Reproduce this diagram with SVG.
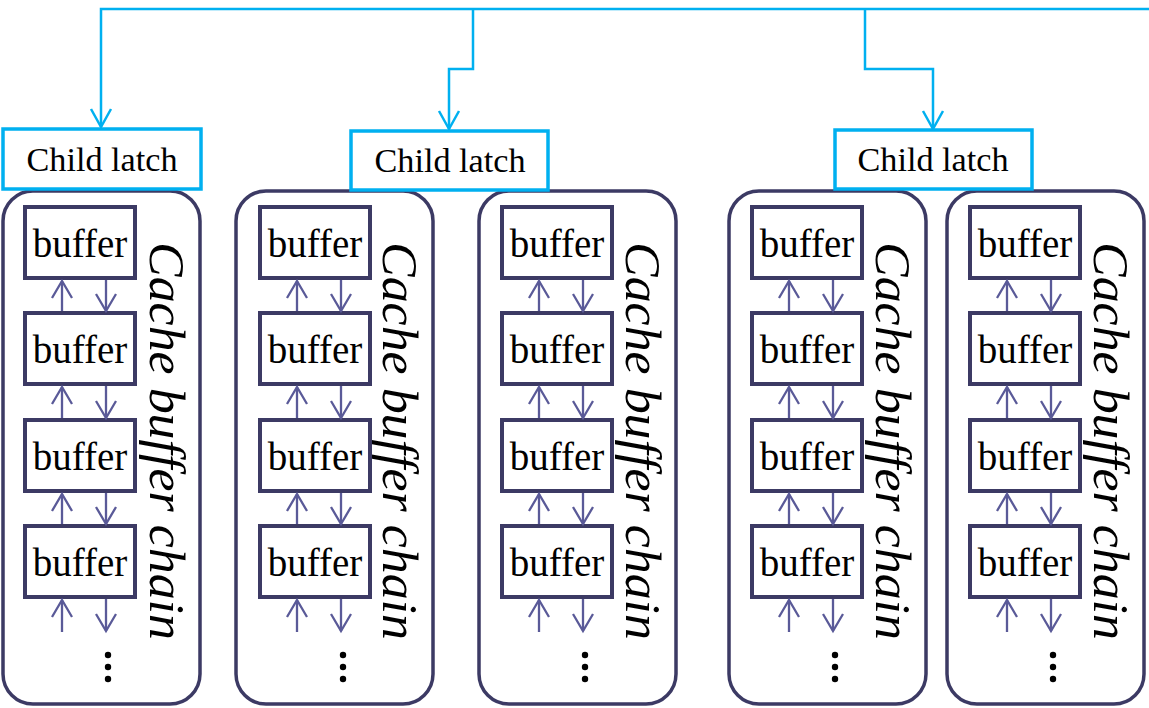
<svg xmlns="http://www.w3.org/2000/svg" width="1149" height="708" viewBox="0 0 1149 708">
  <defs>
    <style>
      .latch { fill: #ffffff; stroke: #00b0f0; stroke-width: 3.5; }
      .latch-text { font-family: "Liberation Serif", serif; font-size: 33px; fill: #000; text-anchor: middle; }
      .chain { fill: #ffffff; stroke: #3c3a64; stroke-width: 3.5; }
      .buf { fill: #ffffff; stroke: #3c3a64; stroke-width: 4; }
      .buf-text { font-family: "Liberation Serif", serif; font-size: 39px; fill: #000; text-anchor: middle; }
      .chain-text { font-family: "Liberation Serif", serif; font-style: italic; font-size: 50px; fill: #000; }
      .wire { fill: none; stroke: #00b0f0; stroke-width: 2.5; }
      .link { fill: none; stroke: #5a5a98; stroke-width: 2.3; }
      .dot { fill: #000; }
    </style>
    <!-- open V heads, drawn pointing along +x -->
    <marker id="blueHead" markerUnits="userSpaceOnUse" markerWidth="24" markerHeight="24" viewBox="-20 -12 24 24" refX="0" refY="0" orient="auto" overflow="visible">
      <path d="M-18,-10 L0,0 L-18,10" fill="none" stroke="#00b0f0" stroke-width="2.5"/>
    </marker>
    <marker id="linkHead" markerUnits="userSpaceOnUse" markerWidth="24" markerHeight="24" viewBox="-20 -12 24 24" refX="0" refY="0" orient="auto" overflow="visible">
      <path d="M-17,-10 L0,0 L-17,10" fill="none" stroke="#5a5a98" stroke-width="2.3"/>
    </marker>
    <!-- one column: four buffers linked both ways, trailing arrows and ellipsis -->
    <g id="column">
      <rect class="buf" x="0" y="0" width="110" height="71"/>
      <text class="buf-text" x="55" y="50">buffer</text>
      <rect class="buf" x="0" y="106" width="110" height="71"/>
      <text class="buf-text" x="55" y="156">buffer</text>
      <rect class="buf" x="0" y="213" width="110" height="71"/>
      <text class="buf-text" x="55" y="263">buffer</text>
      <rect class="buf" x="0" y="319" width="110" height="71"/>
      <text class="buf-text" x="55" y="369">buffer</text>
      <line class="link" x1="37" y1="104" x2="37" y2="74" marker-end="url(#linkHead)"/>
      <line class="link" x1="81" y1="73" x2="81" y2="104" marker-end="url(#linkHead)"/>
      <line class="link" x1="37" y1="211" x2="37" y2="180" marker-end="url(#linkHead)"/>
      <line class="link" x1="81" y1="179" x2="81" y2="211" marker-end="url(#linkHead)"/>
      <line class="link" x1="37" y1="317" x2="37" y2="287" marker-end="url(#linkHead)"/>
      <line class="link" x1="81" y1="286" x2="81" y2="317" marker-end="url(#linkHead)"/>
      <line class="link" x1="37" y1="425" x2="37" y2="393" marker-end="url(#linkHead)"/>
      <line class="link" x1="81" y1="392" x2="81" y2="424" marker-end="url(#linkHead)"/>
      <circle class="dot" cx="83" cy="448" r="3.2"/>
      <circle class="dot" cx="83" cy="460" r="3.2"/>
      <circle class="dot" cx="83" cy="472" r="3.2"/>
    </g>
  </defs>

  <!-- latch feed wires -->
  <g id="connectors">
    <path class="wire" d="M1149,9 L101,9 L101,127" marker-end="url(#blueHead)"/>
    <path class="wire" d="M473,9 L473,69 L449,69 L449,129" marker-end="url(#blueHead)"/>
    <path class="wire" d="M865,9 L865,69 L933,69 L933,129" marker-end="url(#blueHead)"/>
  </g>

  <!-- cache buffer chains -->
  <g id="chain1">
    <rect class="chain" x="3" y="191" width="197" height="513" rx="30"/>
    <use href="#column" x="25" y="207"/>
    <text class="chain-text" transform="translate(150,242) rotate(90)" textLength="398" lengthAdjust="spacingAndGlyphs">Cache buffer chain</text>
  </g>
  <g id="chain2">
    <rect class="chain" x="236" y="191" width="197" height="513" rx="30"/>
    <use href="#column" x="260" y="207"/>
    <text class="chain-text" transform="translate(383,242) rotate(90)" textLength="398" lengthAdjust="spacingAndGlyphs">Cache buffer chain</text>
  </g>
  <g id="chain3">
    <rect class="chain" x="479" y="191" width="197" height="513" rx="30"/>
    <use href="#column" x="502" y="207"/>
    <text class="chain-text" transform="translate(626,242) rotate(90)" textLength="398" lengthAdjust="spacingAndGlyphs">Cache buffer chain</text>
  </g>
  <g id="chain4">
    <rect class="chain" x="729" y="191" width="197" height="513" rx="30"/>
    <use href="#column" x="752" y="207"/>
    <text class="chain-text" transform="translate(876,242) rotate(90)" textLength="398" lengthAdjust="spacingAndGlyphs">Cache buffer chain</text>
  </g>
  <g id="chain5">
    <rect class="chain" x="947" y="191" width="197" height="513" rx="30"/>
    <use href="#column" x="970" y="207"/>
    <text class="chain-text" transform="translate(1094,242) rotate(90)" textLength="398" lengthAdjust="spacingAndGlyphs">Cache buffer chain</text>
  </g>

  <!-- child latches -->
  <g id="latch1">
    <rect class="latch" x="3" y="129" width="198" height="60"/>
    <text class="latch-text" x="102" y="171" textLength="151" lengthAdjust="spacingAndGlyphs">Child latch</text>
  </g>
  <g id="latch2">
    <rect class="latch" x="351" y="131" width="197" height="59"/>
    <text class="latch-text" x="450" y="172" textLength="151" lengthAdjust="spacingAndGlyphs">Child latch</text>
  </g>
  <g id="latch3">
    <rect class="latch" x="835" y="130" width="197" height="59"/>
    <text class="latch-text" x="933" y="171" textLength="151" lengthAdjust="spacingAndGlyphs">Child latch</text>
  </g>
</svg>
